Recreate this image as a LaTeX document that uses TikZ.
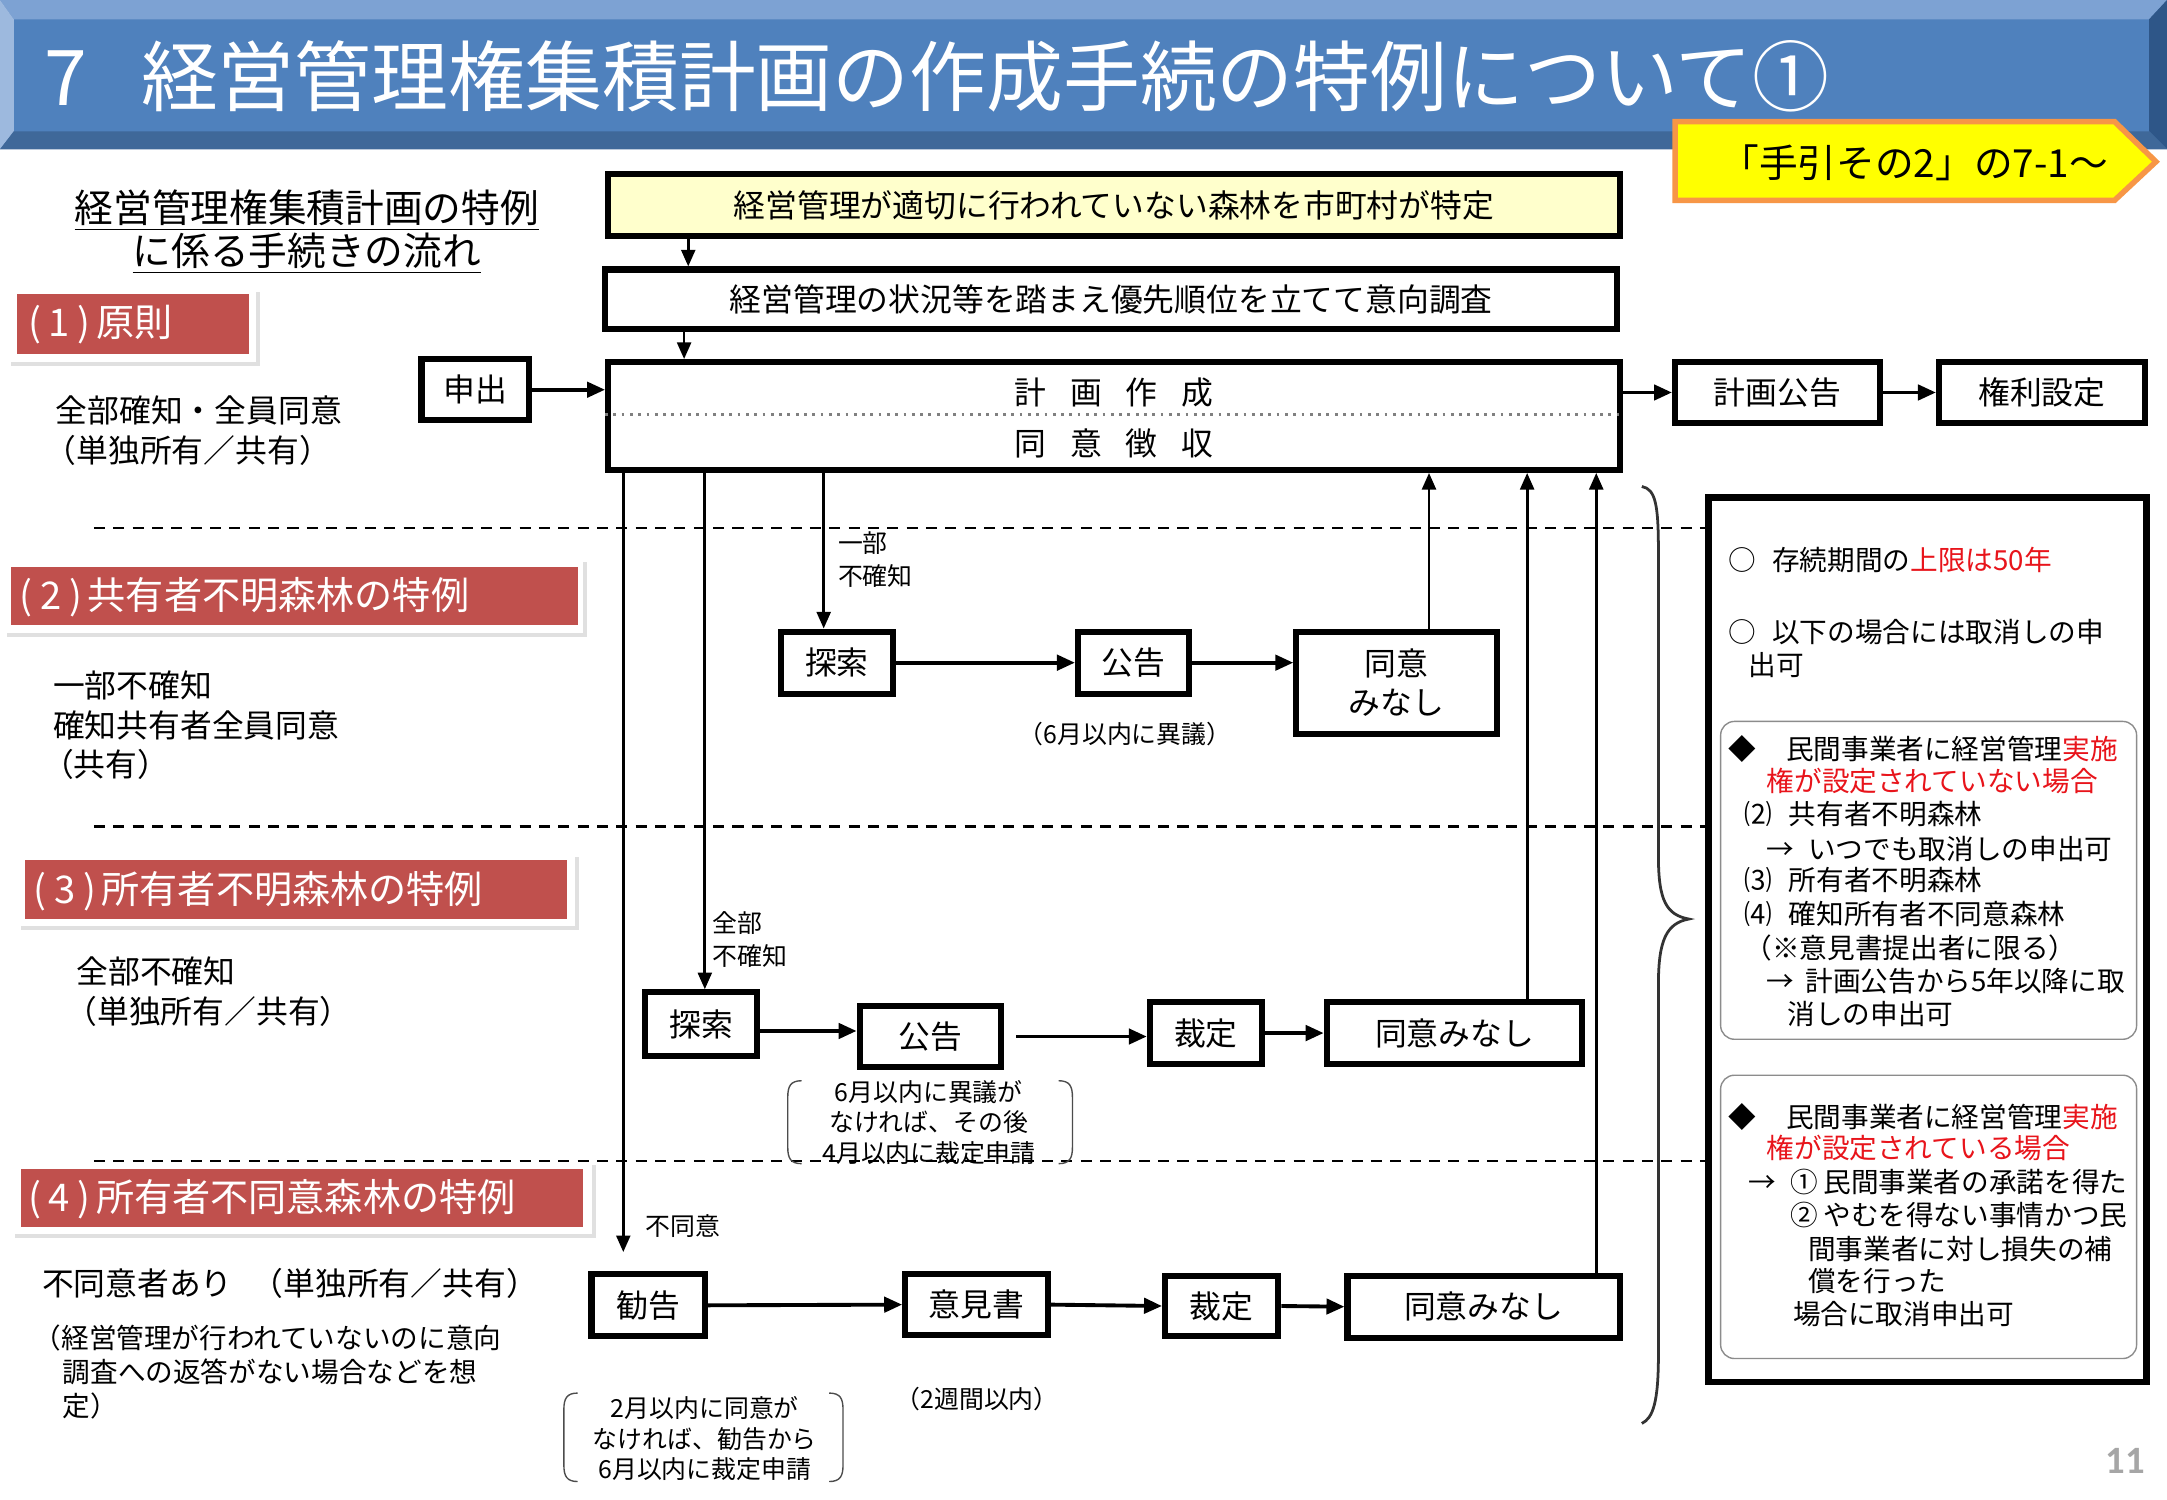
\documentclass[tikz,border=0pt]{standalone}
\usepackage{fontspec}
\setmainfont{Noto Sans CJK JP}
\newfontfamily\pgnumfont{Carlito}
\usetikzlibrary{arrows.meta,fit}
\definecolor{hdrmain}{HTML}{4F81BD}
\definecolor{hdrtop}{HTML}{7DA2D3}
\definecolor{hdrleft}{HTML}{9DB9DE}
\definecolor{hdrright}{HTML}{2E5688}
\definecolor{hdrbot}{HTML}{3F6899}
\definecolor{tagyel}{HTML}{FFFF00}
\definecolor{tagorg}{HTML}{F79646}
\definecolor{labred}{HTML}{C0504D}
\definecolor{boxyel}{HTML}{FFFFCC}
\definecolor{txtred}{HTML}{E8141B}
\definecolor{pggray}{HTML}{A6A6A6}
\newcommand{\secnum}[1]{(\hspace{0.2em}#1\hspace{0.2em})\hspace{0.15em}}
\tikzset{
  tA/.style={font=\fontsize{11.5}{14}\selectfont},
  tS/.style={font=\fontsize{9}{11}\selectfont},
  tR/.style={font=\fontsize{10}{12}\selectfont},
  every label/.append style={inner sep=0pt, align=center, tA},
  flowbox/.style={draw=black, line width=2.2pt, fill=white, inner sep=0pt},
  arr/.style={-{Triangle[length=6pt,width=5pt]}, line width=1pt},
  harr/.style={-{Triangle[length=6.5pt,width=5.5pt]}, line width=1.4pt},
  sepline/.style={dashed, line width=0.9pt, dash pattern=on 4pt off 3pt},
  lefttxt/.style={anchor=west, inner sep=0pt, tA},
  smalltxt/.style={anchor=west, inner sep=0pt, tS},
  redlab/.style={fill=labred, inner sep=0pt},
  labtxt/.style={anchor=west, inner sep=0pt, text=white, font=\fontsize{13.8}{15}\selectfont},
  notebr/.style={line width=0.5pt, draw=black!70},
  rtxt/.style={anchor=west, inner sep=0pt, tR},
  innerbox/.style={draw=black!45, line width=0.5pt, rounded corners=5pt, inner sep=0pt},
}
\begin{document}
\begin{tikzpicture}[x=0.5pt,y=-0.5pt]
\useasboundingbox (0,0) rectangle (1568,1085);
\fill[white] (0,0) rectangle (1568,1085);
% header band
\fill[hdrmain] (0,0) rectangle (1568,108);
\fill[hdrtop] (0,0) -- (1568,0) -- (1555,14) -- (10,14) -- cycle;
\fill[hdrleft] (0,0) -- (10,14) -- (10,95) -- (0,108) -- cycle;
\fill[hdrright] (1568,0) -- (1568,108) -- (1555,95) -- (1555,14) -- cycle;
\fill[hdrbot] (0,108) -- (10,95) -- (1555,95) -- (1568,108) -- cycle;
\node[anchor=west, inner sep=0pt, text=white, font=\fontsize{27.8}{30}\selectfont] (title) at (32,55) {7\hspace{0.7em}経営管理権集積計画の作成手続の特例について①};
% yellow tag
\filldraw[fill=tagyel, draw=tagorg, line width=2pt] (1212,88) -- (1530,88) -- (1560,117) -- (1530,145) -- (1212,145) -- cycle;
\node[inner sep=0pt, font=\fontsize{14}{16}\selectfont] (tag) at (1385,118) {「手引その2」の7-1～};
% subtitle
\node[align=center, inner sep=0pt, font=\fontsize{14}{15.5}\selectfont] (subt) at (222,168) {\underline{経営管理権集積計画の特例}\\\underline{に係る手続きの流れ}};
% red labels
\fill[black!12] (8,211) rectangle (188,265);
\fill[white] (5,208) rectangle (185,262);
\node[redlab, fit={(12,213) (180,256)}] (lab1) {};
\node[labtxt] (lab1t) at (20,235) {\secnum{1}原則};
\fill[black!12] (5,407) rectangle (425,461);
\fill[white] (2,404) rectangle (422,458);
\node[redlab, fit={(8,410) (418,452)}] (lab2) {};
\node[labtxt] (lab2t) at (14,432) {\secnum{2}共有者不明森林の特例};
\fill[black!12] (15,620) rectangle (419,673);
\fill[white] (12,617) rectangle (416,670);
\node[redlab, fit={(18,622) (410,665)}] (lab3) {};
\node[labtxt] (lab3t) at (24,645) {\secnum{3}所有者不明森林の特例};
\fill[black!12] (11,843) rectangle (431,896);
\fill[white] (8,840) rectangle (428,893);
\node[redlab, fit={(15,846) (422,888)}] (lab4) {};
\node[labtxt] (lab4t) at (20,868) {\secnum{4}所有者不同意森林の特例};
% left descriptions
\node[lefttxt] (d1a) at (40,297) {全部確知・全員同意};
\node[lefttxt] (d1b) at (32,326) {（単独所有／共有）};
\node[lefttxt] (d2a) at (38,496) {一部不確知};
\node[lefttxt] (d2b) at (38,525) {確知共有者全員同意};
\node[lefttxt] (d2c) at (30,553) {（共有）};
\node[lefttxt] (d3a) at (55,703) {全部不確知};
\node[lefttxt] (d3b) at (47,732) {（単独所有／共有）};
\node[lefttxt] (d4a) at (30,929) {不同意者あり\hspace{0.6em}（単独所有／共有）};
\node[rtxt] (d4b) at (24,968) {（経営管理が行われていないのに意向};
\node[rtxt] (d4c) at (45,993) {調査への返答がない場合などを想};
\node[rtxt] (d4d) at (45,1017) {定）};
% separators
\draw[sepline] (68,382) -- (1235,382);
\draw[sepline] (68,598) -- (1235,598);
\draw[sepline] (68,840) -- (1235,840);
% main boxes
\node[flowbox, fill=boxyel, fit={(440,126) (1172,171)}, label=center:経営管理が適切に行われていない森林を市町村が特定] (A) {};
\node[flowbox, fit={(438,195) (1170,238)}, label=center:経営管理の状況等を踏まえ優先順位を立てて意向調査] (B) {};
\node[flowbox, fit={(440,262) (1172,340)}] (C) {};
\coordinate (dl) at (0,300);
\draw[gray, dotted, line width=1pt] (C.west |- dl) -- (C.east |- dl);
\node[inner sep=0pt, tA] (C1) at (806,284) {計\hspace{0.75em}画\hspace{0.75em}作\hspace{0.75em}成};
\node[inner sep=0pt, tA] (C2) at (806,321) {同\hspace{0.75em}意\hspace{0.75em}徴\hspace{0.75em}収};
\node[flowbox, fit={(305,260) (383,304)}, label=center:申出] (sh) {};
\node[flowbox, fit={(1212,262) (1360,306)}, label=center:計画公告] (kk) {};
\node[flowbox, fit={(1403,262) (1552,306)}, label=center:権利設定] (kr) {};
\coordinate (xab) at (498,0);
\coordinate (xbc) at (495,0);
\draw[arr] (A.south -| xab) -- (B.north -| xab);
\draw[arr] (B.south -| xbc) -- (C.north -| xbc);
\draw[harr] (sh.east) -- (C.west |- sh.east);
\draw[harr] (C.east |- kk.west) -- (kk.west);
\draw[harr] (kk.east) -- (kr.west);
% section 2
\node[flowbox, fit={(565,457) (646,502)}, label=center:探索] (s2s) {};
\node[flowbox, fit={(780,457) (860,502)}, label=center:公告] (s2k) {};
\node[flowbox, fit={(938,457) (1083,531)}, label={center:同意\\みなし}] (s2d) {};
\coordinate (x2) at (596,0);
\coordinate (u2) at (1034,0);
\draw[arr] (C.south -| x2) -- (s2s.north -| x2);
\draw[harr] (s2s.east) -- (s2k.west);
\draw[harr] (s2k.east) -- (s2k.east -| s2d.west);
\draw[arr] (s2d.north -| u2) -- (C.south -| u2);
\node[smalltxt] (l2a) at (606,393) {一部};
\node[smalltxt] (l2b) at (606,417) {不確知};
\node[inner sep=0pt, tS] (n2) at (814,531) {（6月以内に異議）};
% section 3
\node[flowbox, fit={(467,718) (548,764)}, label=center:探索] (s3s) {};
\node[flowbox, fit={(622,728) (724,772)}, label=center:公告] (s3k) {};
\node[flowbox, fit={(832,725) (913,770)}, label=center:裁定] (s3c) {};
\node[flowbox, fit={(960,725) (1145,770)}, label=center:同意みなし] (s3d) {};
\coordinate (x3) at (510,0);
\coordinate (u3) at (1105,0);
\coordinate (r3) at (0,746);
\draw[arr] (C.south -| x3) -- (s3s.north -| x3);
\draw[harr] (s3s.east |- r3) -- (s3k.west |- r3);
\draw[harr, shorten <=4.5pt] (s3k.east) -- (s3k.east -| s3c.west);
\draw[harr] (s3c.east) -- (s3d.west);
\draw[arr] (s3d.north -| u3) -- (C.south -| u3);
\node[smalltxt] (l3a) at (515,668) {全部};
\node[smalltxt] (l3b) at (515,692) {不確知};
\node[inner sep=0pt, align=center, font=\fontsize{9}{11}\selectfont] (n3) at (672,812) {6月以内に異議が\\なければ、その後\\4月以内に裁定申請};
\draw[notebr] (580,782) .. controls (572,782) and (570,786) .. (570,794) -- (570,830) .. controls (570,838) and (572,842) .. (580,842);
\draw[notebr] (766,782) .. controls (774,782) and (776,786) .. (776,794) -- (776,830) .. controls (776,838) and (774,842) .. (766,842);
% section 4
\node[flowbox, fit={(428,922) (510,967)}, label=center:勧告] (s4a) {};
\node[flowbox, fit={(655,922) (758,966)}, label=center:意見書] (s4o) {};
\node[flowbox, fit={(843,923) (925,967)}, label=center:裁定] (s4c) {};
\node[flowbox, fit={(975,923) (1172,968)}, label=center:同意みなし] (s4d) {};
\coordinate (x4) at (451,0);
\coordinate (e4) at (451,906);
\coordinate (u4) at (1155,0);
\draw[arr] (C.south -| x4) -- (e4);
\draw[harr] (s4a.east) -- (s4o.west);
\draw[harr] (s4o.east) -- (s4c.west);
\draw[harr] (s4c.east) -- (s4d.west);
\draw[arr] (s4d.north -| u4) -- (C.south -| u4);
\node[smalltxt] (l4a) at (467,887) {不同意};
\node[inner sep=0pt, tS] (n4a) at (707,1012) {（2週間以内）};
\node[inner sep=0pt, align=center, font=\fontsize{9}{11}\selectfont] (n4b) at (510,1041) {2月以内に同意が\\なければ、勧告から\\6月以内に裁定申請};
\draw[notebr] (418,1008) .. controls (410,1008) and (408,1012) .. (408,1020) -- (408,1060) .. controls (408,1068) and (410,1072) .. (418,1072);
\draw[notebr] (600,1008) .. controls (608,1008) and (610,1012) .. (610,1020) -- (610,1060) .. controls (610,1068) and (608,1072) .. (600,1072);
% brace
\draw[line width=1pt, black!80] (1188,352) .. controls (1198,354) and (1200,365) .. (1200,400) -- (1200,620) .. controls (1200,652) and (1206,662) .. (1222,665) .. controls (1206,668) and (1200,680) .. (1200,712) -- (1200,980) .. controls (1200,1015) and (1196,1026) .. (1188,1030);
% info box
\node[draw, line width=2.5pt, inner sep=0pt, fit={(1236,360) (1553,1000)}] (info) {};
\node[rtxt] (i1) at (1250,405) {○\hspace{0.6em}存続期間の\textcolor{txtred}{上限は50年}};
\node[rtxt] (i2) at (1250,457) {○\hspace{0.6em}以下の場合には取消しの申};
\node[rtxt] (i3) at (1265,481) {出可};
\node[innerbox, fit={(1245,522) (1546,752)}] (ib1) {};
\node[rtxt] (i4) at (1250,542) {◆\hspace{1.1em}民間事業者に経営管理\textcolor{txtred}{実施}};
\node[rtxt, text=txtred] (i5) at (1278,565) {権が設定されていない場合};
\node[rtxt] (i6) at (1262,589) {⑵\hspace{0.6em}共有者不明森林};
\node[rtxt] (i7) at (1278,614) {→\hspace{0.5em}いつでも取消しの申出可};
\node[rtxt] (i8) at (1262,637) {⑶\hspace{0.6em}所有者不明森林};
\node[rtxt] (i9) at (1262,661) {⑷\hspace{0.6em}確知所有者不同意森林};
\node[rtxt] (i10) at (1262,686) {（※意見書提出者に限る）};
\node[rtxt] (i11) at (1278,710) {→\hspace{0.4em}計画公告から5年以降に取};
\node[rtxt] (i12) at (1293,734) {消しの申出可};
\node[innerbox, fit={(1245,778) (1546,983)}] (ib2) {};
\node[rtxt] (j1) at (1250,808) {◆\hspace{1.1em}民間事業者に経営管理\textcolor{txtred}{実施}};
\node[rtxt, text=txtred] (j2) at (1278,831) {権が設定されている場合};
\node[rtxt] (j3) at (1265,855) {→\hspace{0.5em}①\hspace{0.2em}民間事業者の承諾を得た};
\node[rtxt] (j4) at (1295,879) {②\hspace{0.2em}やむを得ない事情かつ民};
\node[rtxt] (j5) at (1308,904) {間事業者に対し損失の補};
\node[rtxt] (j6) at (1308,927) {償を行った};
\node[rtxt] (j7) at (1297,951) {場合に取消申出可};
% page number
\node[inner sep=0pt, text=pggray, font=\pgnumfont\bfseries\fontsize{14}{16}\selectfont] (pg) at (1538,1057) {11};
\end{tikzpicture}
\end{document}
